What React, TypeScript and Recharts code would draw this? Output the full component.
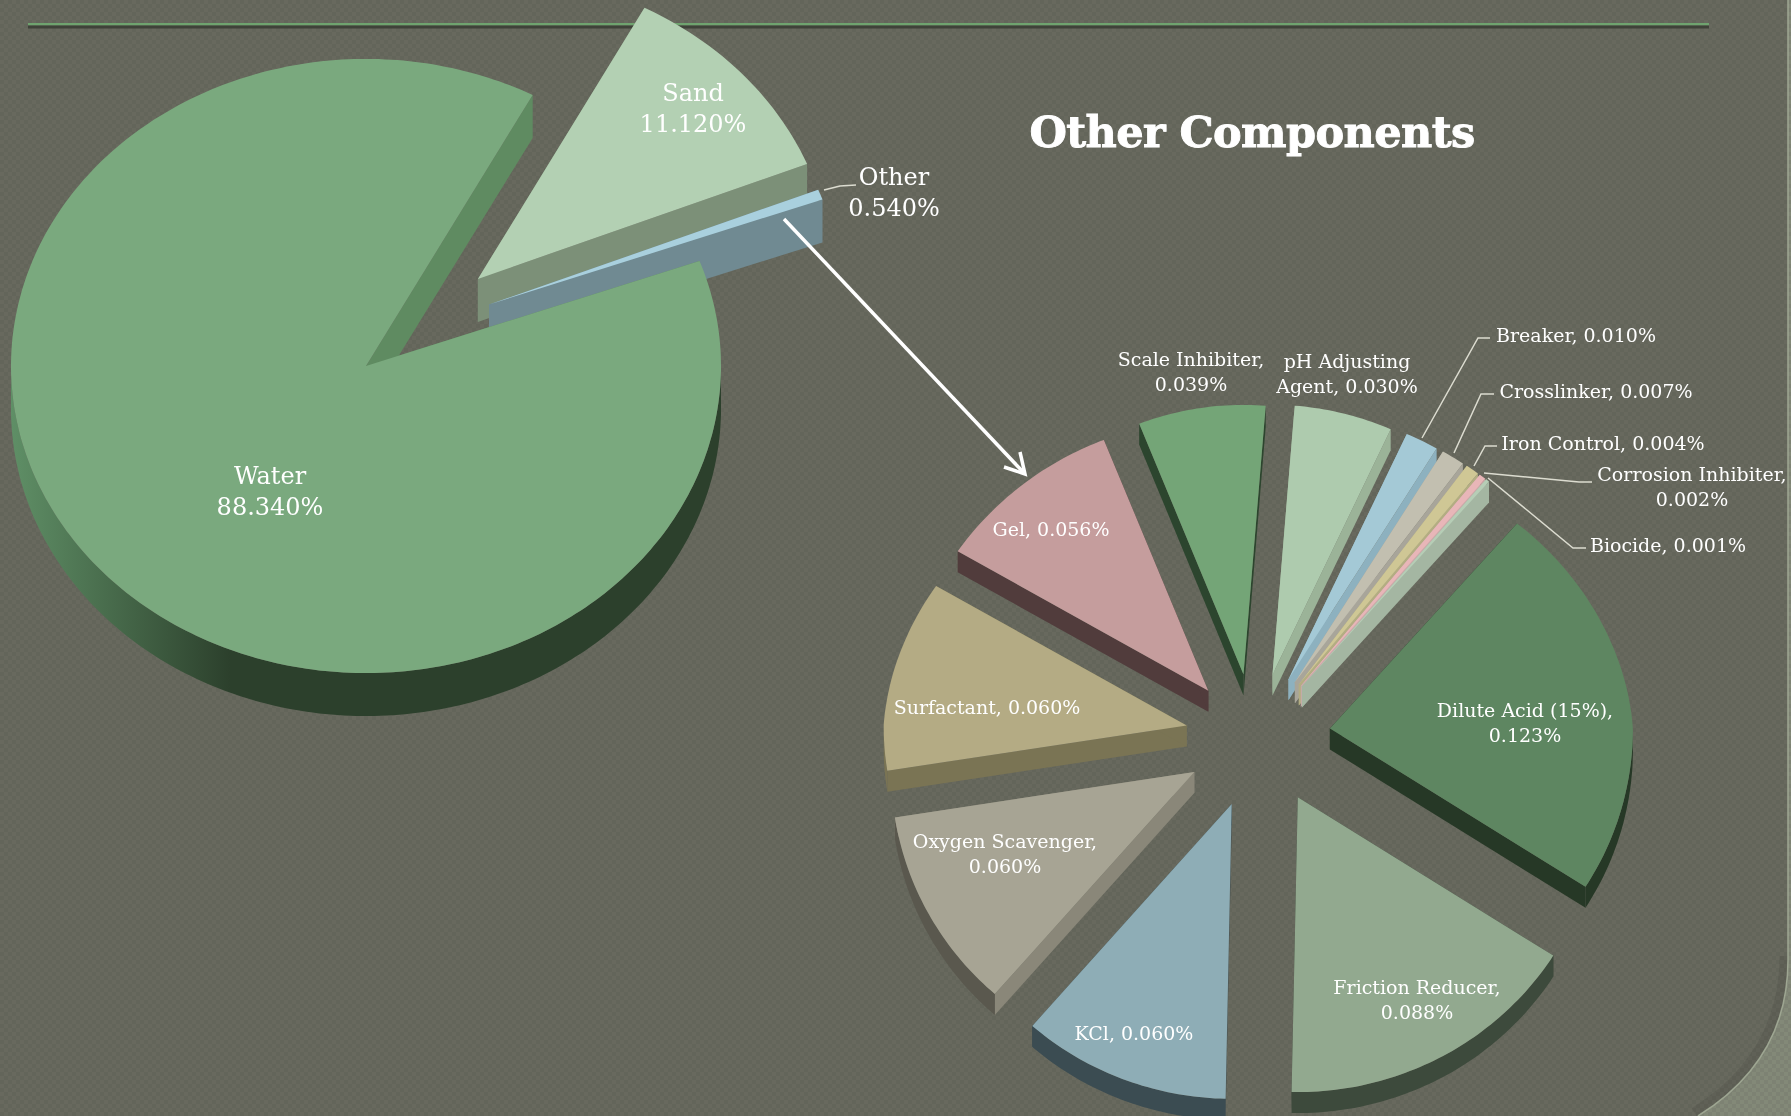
import { Pie, PieChart } from "recharts"

const WIDTH = 1791
const HEIGHT = 1116
const RAD = Math.PI / 180

// main breakdown of the fluid
const mainNames = ["Sand", "Other", "Water"]
const mainValues = [11.12, 0.54, 88.34]
const mainTop = ["#b3d0b3", "#a9d0de", "#7aa97e"]
const mainWall = ["#7c9078", "#708a92", "#5f8b61"]
const mainRim = ["#7c9078", "#708a92", "url(#water-rim)"]
const mainExplode = [0.424, 0.4, 0]
const mainBearing = [0, 9, 0]

// what the "Other" slice is made of
const otherNames = [
  "Dilute Acid (15%)",
  "Friction Reducer",
  "KCl",
  "Oxygen Scavenger",
  "Surfactant",
  "Gel",
  "Scale Inhibiter",
  "pH Adjusting Agent",
  "Breaker",
  "Crosslinker",
  "Iron Control",
  "Corrosion Inhibiter",
  "Biocide",
]
const otherValues = [0.123, 0.088, 0.06, 0.06, 0.06, 0.056, 0.039, 0.03, 0.01, 0.007, 0.004, 0.002, 0.001]
const otherTop = [
  "#5e8661", "#92a98f", "#8eadb6", "#a7a494", "#b4ab84", "#c59d9d", "#74a577",
  "#aecbae", "#a4c9d6", "#c2bfb0", "#cfc795", "#e8b6b8", "#b6cdb6",
]
const otherWall = [
  "#263826", "#3d4a3c", "#3b4c52", "#8a8779", "#7a7454", "#513c3c", "#2c452e",
  "#9bb398", "#8db1bf", "#a8a59a", "#b3ad82", "#ccaaaa", "#a4b6a2",
]
const otherRim = [
  "#263826", "#3d4a3c", "#3b4c52", "#5a584e", "#7a7454", "#513c3c", "#2c452e",
  "#9bb398", "#8db1bf", "#a8a59a", "#b3ad82", "#ccaaaa", "#a4b6a2",
]
const otherExplode = 0.24
const otherBearing = [0, 5, 0, 0, 0, 3, 3, 3, 3, 3, 3, 3, 3]

// label anchors: x, y of the first row, words on the first row, leader points
const mainLabels = [
  { x: 693, y: 93, wrap: 1, leader: [] },
  { x: 894, y: 177, wrap: 1, leader: [[824, 190], [840, 186], [856, 185]] },
  { x: 270, y: 476, wrap: 1, leader: [] },
]
const otherLabels = [
  { x: 1525, y: 710, wrap: 3, leader: [] },
  { x: 1417, y: 987, wrap: 2, leader: [] },
  { x: 1134, y: 1033, wrap: 0, leader: [] },
  { x: 1005, y: 841, wrap: 2, leader: [] },
  { x: 987, y: 707, wrap: 0, leader: [] },
  { x: 1051, y: 529, wrap: 0, leader: [] },
  { x: 1191, y: 359, wrap: 2, leader: [] },
  { x: 1347, y: 361, wrap: 2, leader: [] },
  { x: 1576, y: 335, wrap: 0, leader: [[1422, 438], [1478, 338], [1490, 338]] },
  { x: 1596, y: 391, wrap: 0, leader: [[1454, 453], [1481, 394], [1494, 394]] },
  { x: 1603, y: 443, wrap: 0, leader: [[1474, 466], [1485, 446], [1497, 446]] },
  { x: 1692, y: 474, wrap: 2, leader: [[1484, 473], [1579, 482], [1592, 482]] },
  { x: 1668, y: 545, wrap: 0, leader: [[1488, 478], [1573, 548], [1586, 548]] },
]

const FONT = "'DejaVu Serif', serif"

const mainData = mainNames.map((name, i) => ({ name, value: mainValues[i] }))
const otherData = otherNames.map((name, i) => ({ name, value: otherValues[i] }))

type Look = {
  top: string[]
  wall: string[]
  rim: string[]
  explode: number[]
  bearing: number[]
  kUp: number
  kDown: number
  pinch: number
  depth: number
}

// extruded, tilted slice: built from the sector angles the Pie hands over
function tiltedSector(look: Look) {
  return (props: any) => {
    const { cx, cy, outerRadius: r, startAngle, endAngle, index } = props
    const mid = (startAngle + endAngle) / 2 + look.bearing[index]
    const k = Math.sin(mid * RAD) > 0 ? look.kUp : look.kDown
    const f = look.explode[index] * r
    const ox = cx + f * Math.cos(mid * RAD)
    const oy = cy - f * Math.sin(mid * RAD) * k

    // the far side of the disc sits a little narrower and flatter
    const at = (a: number, d = 0) => {
      const s = Math.sin(a * RAD)
      const far = Math.max(s, 0)
      return [
        ox + r * Math.cos(a * RAD) * (1 - look.pinch * far),
        oy - r * s * (s > 0 ? look.kUp : look.kDown) + d,
      ]
    }
    const steps = Math.max(2, Math.ceil(Math.abs(endAngle - startAngle)))
    const arc: number[][] = []
    const rimHigh: number[][] = []
    const rimLow: number[][] = []
    for (let i = 0; i <= steps; i++) {
      const a = startAngle + ((endAngle - startAngle) * i) / steps
      arc.push(at(a))
      // only the near half of the outer wall can be seen
      if (Math.sin(a * RAD) <= 0.001) {
        rimHigh.push(at(a))
        rimLow.push(at(a, look.depth))
      }
    }
    const first = arc[0]
    const last = arc[arc.length - 1]
    const pts = (list: number[][]) => list.map((p) => p.map((n) => n.toFixed(1)).join(",")).join(" ")
    const d = look.depth
    return (
      <g>
        <polygon points={pts([[ox, oy], first, at(startAngle, d), [ox, oy + d]])} fill={look.wall[index]} />
        <polygon points={pts([[ox, oy], last, at(endAngle, d), [ox, oy + d]])} fill={look.wall[index]} />
        {rimHigh.length > 1 && (
          <polygon points={pts([...rimHigh, ...rimLow.slice().reverse()])} fill={look.rim[index]} />
        )}
        <polygon points={pts([[ox, oy], ...arc])} fill={look.top[index]} />
      </g>
    )
  }
}

function sliceLabel(rows: any[], texts: string[], size: number, rowGap: number) {
  return (props: any) => {
    const { index } = props
    const spot = rows[index]
    const words = texts[index].split(" ")
    const lines = spot.wrap ? [words.slice(0, spot.wrap).join(" "), words.slice(spot.wrap).join(" ")] : [texts[index]]
    return (
      <g key={index}>
        {spot.leader.length > 0 && (
          <polyline
            points={spot.leader.map((p: number[]) => p.join(",")).join(" ")}
            fill="none"
            stroke="#dcdcd0"
            strokeWidth={1.5}
          />
        )}
        {lines.map((line, i) => (
          <text
            key={i}
            x={spot.x}
            y={spot.y + i * rowGap}
            textAnchor="middle"
            dominantBaseline="central"
            fontFamily={FONT}
            fontSize={size}
            fill="#ffffff"
          >
            {line}
          </text>
        ))}
      </g>
    )
  }
}

const mainLook: Look = {
  top: mainTop,
  wall: mainWall,
  rim: mainRim,
  explode: mainExplode,
  bearing: mainBearing,
  kUp: 0.865,
  kDown: 0.865,
  pinch: 0,
  depth: 43,
}
const otherLook: Look = {
  top: otherTop,
  wall: otherWall,
  rim: otherRim,
  explode: otherNames.map(() => otherExplode),
  bearing: otherBearing,
  kUp: 0.89,
  kDown: 0.973,
  pinch: 0.065,
  depth: 21,
}

const mainShape = tiltedSector(mainLook)
const otherShape = tiltedSector(otherLook)
const mainTexts = mainNames.map((n, i) => `${n} ${mainValues[i].toFixed(3)}%`)
const otherTexts = otherNames.map((n, i) => `${n}, ${otherValues[i].toFixed(3)}%`)

const layer = { position: "absolute", left: 0, top: 0 } as const

const CORNER = "M1698 1116 Q1788 1060 1788 960"

export default function App() {
  return (
    <div style={{ position: "fixed", left: 0, top: 0, width: WIDTH, height: HEIGHT, overflow: "hidden" }}>
      <svg width={WIDTH} height={HEIGHT} style={layer}>
        <defs>
          <pattern id="weave" width={8} height={8} patternUnits="userSpaceOnUse">
            <rect width={8} height={8} fill="#68695e" />
            <rect width={4} height={4} fill="#63655a" />
            <rect x={4} y={4} width={4} height={4} fill="#63655a" />
          </pattern>
          <pattern id="weave-light" width={8} height={8} patternUnits="userSpaceOnUse">
            <rect width={8} height={8} fill="#7d8273" />
            <rect width={4} height={4} fill="#838978" />
            <rect x={4} y={4} width={4} height={4} fill="#838978" />
          </pattern>
          <linearGradient id="water-rim" gradientUnits="userSpaceOnUse" x1={11} y1={0} x2={230} y2={0}>
            <stop offset="0" stopColor="#5f8f66" />
            <stop offset="1" stopColor="#2c402c" />
          </linearGradient>
        </defs>
        <rect width={WIDTH} height={HEIGHT} fill="url(#weave)" />
        <path d={CORNER} transform="translate(-4 -4)" fill="none" stroke="#000000" strokeOpacity={0.07} strokeWidth={9} />
        <path d={`${CORNER} L1788 0 L1791 0 L1791 1116 Z`} fill="url(#weave-light)" />
        <path d={`${CORNER} L1788 0`} fill="none" stroke="#9ea692" strokeWidth={1.5} />
        <rect x={28} y={23} width={1681} height={2.5} fill="#6fa36f" />
        <rect x={28} y={25.5} width={1681} height={3} fill="#3f4239" />
      </svg>

      <div style={layer}>
        <PieChart width={WIDTH} height={HEIGHT} margin={{ top: 0, right: 0, bottom: 0, left: 0 }}>
          <Pie
            data={mainData}
            dataKey="value"
            nameKey="name"
            cx={366}
            cy={366}
            outerRadius={355}
            startAngle={62}
            endAngle={-298}
            isAnimationActive={false}
            shape={mainShape}
            activeShape={mainShape}
            inactiveShape={mainShape}
            label={sliceLabel(mainLabels, mainTexts, 24, 31)}
            labelLine={false}
          />
          <Pie
            data={otherData}
            dataKey="value"
            nameKey="name"
            cx={1258}
            cy={738}
            outerRadius={303}
            startAngle={49.5}
            endAngle={-310.5}
            isAnimationActive={false}
            shape={otherShape}
            activeShape={otherShape}
            inactiveShape={otherShape}
            label={sliceLabel(otherLabels, otherTexts, 19, 25)}
            labelLine={false}
          />
        </PieChart>
      </div>

      <svg width={WIDTH} height={HEIGHT} style={{ ...layer, pointerEvents: "none" }}>
        <text
          x={1252}
          y={132}
          textAnchor="middle"
          dominantBaseline="central"
          fontFamily={FONT}
          fontWeight="bold"
          fontSize={43}
          letterSpacing={-0.6}
          stroke="#ffffff"
          strokeWidth={0.9}
          fill="#ffffff"
        >
          Other Components
        </text>
        <line x1={784} y1={219} x2={1024} y2={473} stroke="#ffffff" strokeWidth={3.5} />
        <polyline points="1004,467 1025,474 1020,452" fill="none" stroke="#ffffff" strokeWidth={3.5} />
      </svg>
    </div>
  )
}
